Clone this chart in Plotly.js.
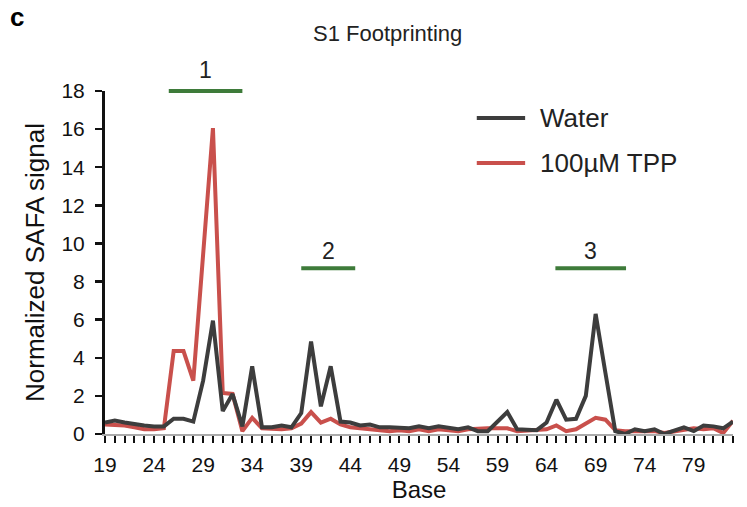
<!DOCTYPE html>
<html>
<head>
<meta charset="utf-8">
<script src="https://cdn.plot.ly/plotly-3.0.1.min.js"></script>
<style>html,body{margin:0;padding:0;background:#fff;}#chart{width:747px;height:507px;}</style>
</head>
<body>
<div id="chart"></div>
<script>
// Bases 19..83
const bases = [19,20,21,22,23,24,25,26,27,28,29,30,31,32,33,34,35,36,37,38,39,40,41,42,43,44,45,46,47,48,49,50,51,52,53,54,55,56,57,58,59,60,61,62,63,64,65,66,67,68,69,70,71,72,73,74,75,76,77,78,79,80,81,82,83];
const water = [0.6,0.7,0.6,0.5,0.45,0.4,0.4,0.8,0.8,0.65,2.8,5.95,1.2,2.1,0.4,3.55,0.35,0.35,0.45,0.35,1.1,4.85,1.45,3.55,0.65,0.6,0.45,0.5,0.35,0.35,0.35,0.3,0.4,0.3,0.4,0.35,0.25,0.35,0.15,0.15,0.65,1.15,0.25,0.25,0.2,0.6,1.8,0.75,0.8,2.0,6.3,3.2,0.15,0.0,0.25,0.15,0.25,0.0,0.2,0.35,0.15,0.45,0.4,0.3,0.65];
const tpp = [0.5,0.5,0.45,0.35,0.25,0.25,0.3,4.35,4.35,2.8,9.4,16.05,2.15,2.1,0.15,0.85,0.3,0.25,0.25,0.3,0.55,1.15,0.6,0.8,0.5,0.35,0.3,0.25,0.15,0.15,0.2,0.15,0.25,0.15,0.25,0.2,0.15,0.25,0.3,0.3,0.3,0.3,0.15,0.2,0.25,0.25,0.45,0.15,0.25,0.55,0.85,0.75,0.2,0.15,0.15,0.1,0.15,0.05,0.15,0.25,0.3,0.25,0.3,0.05,0.7];
const xTickVals = [19,24,29,34,39,44,49,54,59,64,69,74,79];
const yTickVals = [0,2,4,6,8,10,12,14,16,18];
// Footprint regions: label, start base, end base, height (signal units)
const regionLabels = ["1","2","3"];
const regionStart = [25.5, 39.0, 64.9];
const regionEnd = [33.0, 44.5, 72.1];
const regionY = [18, 8.7, 8.7];
const regionLabelY = [19.1, 9.6, 9.6];
const seriesNames = ["Water","100µM TPP"];

const Y_MAX = 18;
const FONT = "Liberation Sans, Arial, sans-serif";
const BLACK = "#3d3d3d", RED = "#c9504c", GREEN = "#3e7b3a";

const traces = [
  {x: bases, y: tpp, type: "scatter", mode: "lines", name: seriesNames[1],
   line: {color: RED, width: 4}, showlegend: false},
  {x: bases, y: water, type: "scatter", mode: "lines", name: seriesNames[0],
   line: {color: BLACK, width: 4}, showlegend: false}
];

const shapes = [];
const annotations = [];
for (let i = 0; i < regionLabels.length; i++) {
  shapes.push({type: "line", xref: "x", yref: "paper", x0: regionStart[i], x1: regionEnd[i],
    y0: regionY[i] / Y_MAX, y1: regionY[i] / Y_MAX, line: {color: GREEN, width: 4}});
  annotations.push({xref: "x", yref: "paper", x: (regionStart[i] + regionEnd[i]) / 2, y: regionLabelY[i] / Y_MAX,
    text: regionLabels[i], showarrow: false, yanchor: "middle",
    font: {family: FONT, size: 23, color: "#222"}});
}
// Manual legend
const legColors = [BLACK, RED];
const legY = [0.921, 0.790];
for (let i = 0; i < 2; i++) {
  shapes.push({type: "line", xref: "paper", yref: "paper", x0: 0.592, x1: 0.669,
    y0: legY[i], y1: legY[i], line: {color: legColors[i], width: 4}});
  annotations.push({xref: "paper", yref: "paper", x: 0.689, y: legY[i], xanchor: "left",
    yanchor: "middle", text: seriesNames[i], showarrow: false,
    font: {family: FONT, size: 26, color: "#222"}});
}
annotations.push({xref: "paper", yref: "paper", x: -0.155, y: 1.215, xanchor: "left", yanchor: "middle",
  text: "<b>c</b>", showarrow: false, font: {family: FONT, size: 26, color: "#000"}});

const layout = {
  width: 747, height: 507,
  margin: {l: 105, r: 14, t: 91, b: 73},
  paper_bgcolor: "#fff", plot_bgcolor: "#fff",
  title: {text: "S1 Footprinting", x: 0.519, xref: "container", y: 0.935, yref: "container",
    xanchor: "center", yanchor: "middle", font: {family: FONT, size: 22, color: "#222"}},
  xaxis: {
    range: [19, 83], tickvals: xTickVals, ticktext: xTickVals.map(String),
    ticks: "outside", ticklen: 7, tickwidth: 2, tickcolor: "#111",
    minor: {dtick: 1, tick0: 19, ticks: "outside", ticklen: 7, tickwidth: 2, tickcolor: "#111"},
    showline: true, linecolor: "#aaa", linewidth: 2, showgrid: false, zeroline: false,
    tickfont: {family: FONT, size: 21, color: "#111"}, ticklabelstandoff: 4,
    title: {text: "Base", font: {family: FONT, size: 24, color: "#111"}, standoff: 2}
  },
  yaxis: {
    range: [0, Y_MAX], tickvals: yTickVals, ticks: "outside", ticklen: 7, tickwidth: 2.5, tickcolor: "#111",
    showline: true, linecolor: "#111", linewidth: 3, showgrid: false, zeroline: false,
    tickfont: {family: FONT, size: 21, color: "#111"}, ticklabelstandoff: 6,
    title: {text: "Normalized SAFA signal", font: {family: FONT, size: 26, color: "#111"}, standoff: 10}
  },
  shapes: shapes,
  annotations: annotations,
  showlegend: false
};

Plotly.newPlot("chart", traces, layout, {displayModeBar: false, staticPlot: true});
</script>
</body>
</html>
